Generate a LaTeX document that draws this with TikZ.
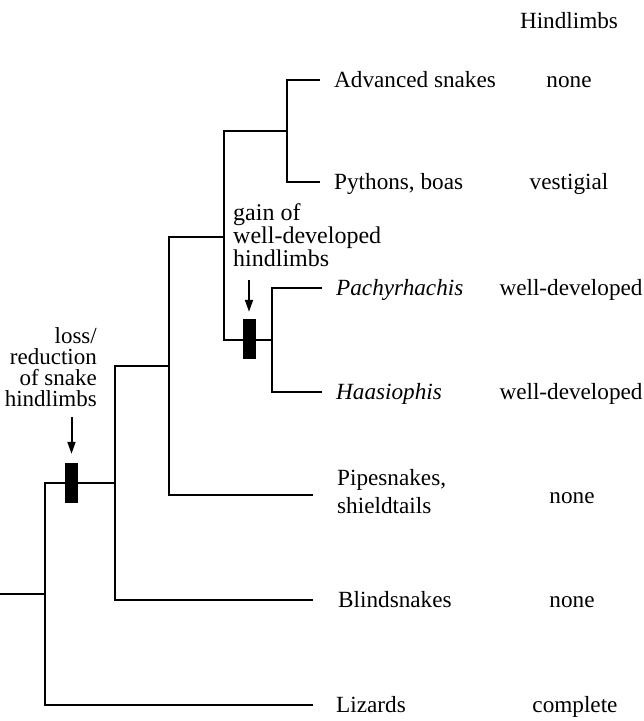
\documentclass[tikz,border=0pt]{standalone}
\usepackage{fontspec}
\setmainfont{Liberation Serif}
\usetikzlibrary{arrows.meta}
\begin{document}
\begin{tikzpicture}[x=1pt, y=-1pt,
  branch/.style={line width=2.8pt, line join=miter},
  taxon/.style={anchor=base west, inner sep=0pt, align=left,
    font=\fontsize{23.2}{28}\selectfont},
  state/.style={anchor=base, inner sep=0pt,
    font=\fontsize{23.2}{28}\selectfont},
  note/.style={inner sep=0pt, font=\fontsize{23}{21}\selectfont},
  traitbar/.style={fill=black, draw=none, inner sep=0pt,
    minimum width=13pt, minimum height=40pt},
  pointer/.style={line width=2pt, -{Triangle[length=12pt,width=8pt]}}]
  \useasboundingbox (0,0) rectangle (644,721);

  % internal nodes (point on each vertical bar)
  \coordinate (base) at (0,594);
  \coordinate (R) at (45,594);
  \coordinate (A) at (115,483);
  \coordinate (B) at (169,366);
  \coordinate (C) at (224,237);
  \coordinate (E) at (287,131);
  \coordinate (D) at (272,340);

  % tips of the terminal branches
  \coordinate (tAdv)   at (320,80);
  \coordinate (tPyth)  at (320,182);
  \coordinate (tPach)  at (322,288);
  \coordinate (tHaas)  at (322,392);
  \coordinate (tPipe)  at (313,495);
  \coordinate (tBlind) at (313,600);
  \coordinate (tLiz)   at (313,705);

  % tree
  \draw[branch] (base) -- (R);
  \draw[branch] (R) |- (A);
  \draw[branch] (R) |- (tLiz);
  \draw[branch] (A) |- (B);
  \draw[branch] (A) |- (tBlind);
  \draw[branch] (B) |- (C);
  \draw[branch] (B) |- (tPipe);
  \draw[branch] (C) |- (E);
  \draw[branch] (C) |- (D);
  \draw[branch] (E) |- (tAdv);
  \draw[branch] (E) |- (tPyth);
  \draw[branch] (D) |- (tPach);
  \draw[branch] (D) |- (tHaas);

  % character changes
  \node[traitbar] (lossbar) at (71.5,483) {};
  \node[traitbar] (gainbar) at (249,339) {};
  \node[note, anchor=base east, align=right] (lossnote) at (97,406)
    {loss/\\reduction\\of snake\\hindlimbs};
  \node[note, anchor=base west, align=left,
        font=\fontsize{24}{20.5}\selectfont] (gainnote) at (233,266)
    {gain of\\well-developed\\hindlimbs};
  \coordinate (lossstart) at (71.5,417);
  \coordinate (gainstart) at (249,280);
  \draw[pointer] (lossstart) -- ([yshift=9pt]lossbar.north);
  \draw[pointer] (gainstart) -- ([yshift=7pt]gainbar.north);

  % taxa
  \node[taxon] (adv)   at (334,87)  {Advanced snakes};
  \node[taxon] (pyth)  at (334,189) {Pythons, boas};
  \node[taxon] (pach)  at (336,295) {\itshape Pachyrhachis};
  \node[taxon] (haas)  at (336,399) {\itshape Haasiophis};
  \node[taxon] (pipe)  at (337,513) {Pipesnakes,\\shieldtails};
  \node[taxon] (blind) at (338,607) {Blindsnakes};
  \node[taxon] (liz)   at (336,712) {Lizards};

  % hindlimb condition
  \node[state] (head)   at (569,28)  {Hindlimbs};
  \node[state] (sAdv)   at (569,87)  {none};
  \node[state] (sPyth)  at (569,189) {vestigial};
  \node[state] (sPach)  at (571,295) {well-developed};
  \node[state] (sHaas)  at (571,399) {well-developed};
  \node[state] (sPipe)  at (572,503) {none};
  \node[state] (sBlind) at (572,607) {none};
  \node[state] (sLiz)   at (575,712) {complete};
\end{tikzpicture}
\end{document}
